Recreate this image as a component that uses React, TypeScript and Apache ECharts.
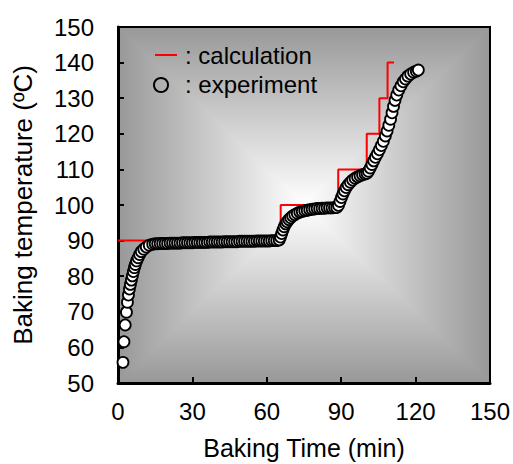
import React, { useEffect, useRef } from "react";
import * as echarts from "echarts";

// Experiment (circles): baking time (min) and temperature (°C)
const expTime = [
  2.0, 2.4, 2.9, 3.4, 3.8, 4.2, 4.6, 5.0, 5.4, 5.8, 6.2, 6.6, 7.0, 7.5, 8.1, 8.7, 9.4, 10.4, 11.4, 12.6, 14.0,
  15, 16, 17, 18, 19, 20, 21, 22, 23, 24, 25, 26, 27, 28, 29, 30, 31, 32, 33, 34, 35, 36, 37, 38, 39, 40,
  41, 42, 43, 44, 45, 46, 47, 48, 49, 50, 51, 52, 53, 54, 55, 56, 57, 58, 59, 60, 61, 62, 63, 64,
  65.0, 65.5, 66.0, 66.5, 67.0, 67.6, 68.2, 68.9, 69.6, 70.4, 71.3, 72.3, 73.3, 74.3, 75.3, 76.3, 77.3,
  78.3, 79.3, 80.3, 81.3, 82.3, 83.3, 84.3, 85.3, 86.3, 87.3, 88.2,
  88.9, 89.5, 90.1, 90.7, 91.3, 92.0, 92.8, 93.7, 94.6, 95.6, 96.6, 97.6, 98.6, 99.6, 100.4,
  101.0, 101.7, 102.4, 103.1, 103.8, 104.6, 105.4, 106.2, 107.0, 107.8, 108.5, 109.2, 109.9, 110.5,
  111.1, 111.7, 112.4, 113.2, 114.1, 115.0, 115.9, 116.9, 118.0, 119.2, 120.3, 121.1,
];
const expTemp = [
  55.8, 61.6, 66.3, 69.9, 72.7, 74.7, 76.4, 77.7, 78.9, 80.1, 81.3, 82.4, 83.3, 84.3, 85.2, 86.1, 86.9, 87.6, 88.2, 88.7, 89.0,
  89.1, 89.1, 89.2, 89.2, 89.2, 89.2, 89.3, 89.3, 89.3, 89.3, 89.3, 89.4, 89.4, 89.4, 89.4, 89.4, 89.5, 89.5, 89.5, 89.5, 89.5, 89.5, 89.6, 89.6, 89.6, 89.6,
  89.6, 89.6, 89.7, 89.7, 89.7, 89.7, 89.7, 89.7, 89.8, 89.8, 89.8, 89.8, 89.8, 89.8, 89.8, 89.9, 89.9, 89.9, 89.9, 89.9, 89.9, 90.0, 90.0, 90.0,
  90.2, 91.0, 92.0, 93.0, 93.9, 94.7, 95.3, 95.9, 96.4, 96.9, 97.3, 97.7, 98.0, 98.2, 98.4, 98.5, 98.7,
  98.8, 98.9, 99.0, 99.0, 99.1, 99.1, 99.2, 99.2, 99.2, 99.3, 99.3,
  99.9, 101.0, 102.1, 103.1, 104.0, 104.9, 105.7, 106.4, 107.0, 107.5, 107.9, 108.2, 108.5, 108.7, 108.9,
  109.5, 110.4, 111.4, 112.4, 113.4, 114.4, 115.5, 116.7, 117.9, 119.4, 120.8, 122.4, 124.1, 125.9,
  127.7, 129.4, 130.9, 132.3, 133.5, 134.6, 135.4, 136.2, 136.8, 137.3, 137.6, 137.9,
];

// Calculation (red step line): step change times and set temperatures
const calcTime = [0, 65.6, 88.8, 100.3, 105.4, 108.7, 111.3];
const calcTemp = [90, 100, 110, 120, 130, 140, 140];

const legendLabels = [": calculation", ": experiment"];
const xAxisName = "Baking Time (min)";
const yAxisName = "Baking temperature (ºC)";

const GRID = { left: 118, top: 27, width: 372, height: 356 };
const EDGE = "#989898";
const FONT = "'Liberation Sans', Arial, sans-serif";

export default function App() {
  const ref = useRef<HTMLDivElement>(null);
  useEffect(() => {
    if (!ref.current) return;
    const chart = echarts.init(ref.current, null, { renderer: "svg" });
    const L = GRID.left, T = GRID.top, R = GRID.left + GRID.width, B = GRID.top + GRID.height;
    const cx = (L + R) / 2, cy = (T + B) / 2;
    const grad = (x: number, y: number, x2: number, y2: number) => ({
      type: "linear", x, y, x2, y2,
      colorStops: [{ offset: 0, color: EDGE }, { offset: 1, color: "#ffffff" }],
    });
    const tri = (pts: number[][], g: any) => ({
      type: "polygon", z: -10, silent: true, shape: { points: pts },
      style: { fill: g, stroke: g, lineWidth: 1.2 },
    });
    const expData = expTime.map((t, i) => [t, expTemp[i]]);
    const calcData = calcTime.map((t, i) => [t, calcTemp[i]]);
    chart.setOption({
      animation: false,
      textStyle: { fontFamily: FONT },
      grid: {
        ...GRID, outerBoundsMode: "none", containLabel: false,
        show: true, borderColor: "#000", borderWidth: 2, backgroundColor: "transparent",
      },
      graphic: [
        tri([[L, T], [R, T], [cx, cy]], grad(0, 0, 0, 1)),
        tri([[L, B], [R, B], [cx, cy]], grad(0, 1, 0, 0)),
        tri([[L, T], [L, B], [cx, cy]], grad(0, 0, 1, 0)),
        tri([[R, T], [R, B], [cx, cy]], grad(1, 0, 0, 0)),
        { type: "line", z: 50, shape: { x1: 155, y1: 55, x2: 177, y2: 55 }, style: { stroke: "#ff0000", lineWidth: 2 } },
        { type: "circle", z: 50, shape: { cx: 161, cy: 85, r: 7 }, style: { fill: "none", stroke: "#000", lineWidth: 2 } },
        { type: "text", z: 50, x: 185, y: 55, style: { text: legendLabels[0], font: `24px ${FONT}`, fill: "#000", verticalAlign: "middle" } },
        { type: "text", z: 50, x: 185, y: 84, style: { text: legendLabels[1], font: `24px ${FONT}`, fill: "#000", verticalAlign: "middle" } },
      ],
      xAxis: {
        type: "value", min: 0, max: 150, interval: 30,
        name: xAxisName, nameLocation: "middle", nameGap: 52,
        nameTextStyle: { fontSize: 25, color: "#000", fontFamily: FONT },
        axisLine: { show: true, lineStyle: { color: "#000", width: 3 } },
        axisTick: { show: true, inside: true, length: 6, lineStyle: { color: "#000", width: 2 } },
        axisLabel: { fontSize: 24, color: "#000", margin: 16, fontFamily: FONT },
        splitLine: { show: false },
      },
      yAxis: {
        type: "value", min: 50, max: 150, interval: 10,
        name: yAxisName, nameLocation: "middle", nameGap: 82,
        nameTextStyle: { fontSize: 26, color: "#000", fontFamily: FONT },
        axisLine: { show: true, lineStyle: { color: "#000", width: 3 } },
        axisTick: { show: true, inside: true, length: 6, lineStyle: { color: "#000", width: 2 } },
        axisLabel: { fontSize: 24, color: "#000", margin: 24, fontFamily: FONT },
        splitLine: { show: false },
      },
      series: [
        {
          type: "line", data: calcData, step: "end", showSymbol: false, z: 2,
          lineStyle: { color: "#ff0000", width: 2 }, clip: false,
        },
        {
          type: "scatter", data: expData, symbol: "circle", symbolSize: 11, z: 3,
          itemStyle: { color: "#ffffff", borderColor: "#000", borderWidth: 1.8, opacity: 1 },
        },
      ],
    });
    return () => chart.dispose();
  }, []);
  return <div ref={ref} style={{ width: 513, height: 464, position: "absolute", left: 0, top: 0 }} />;
}
